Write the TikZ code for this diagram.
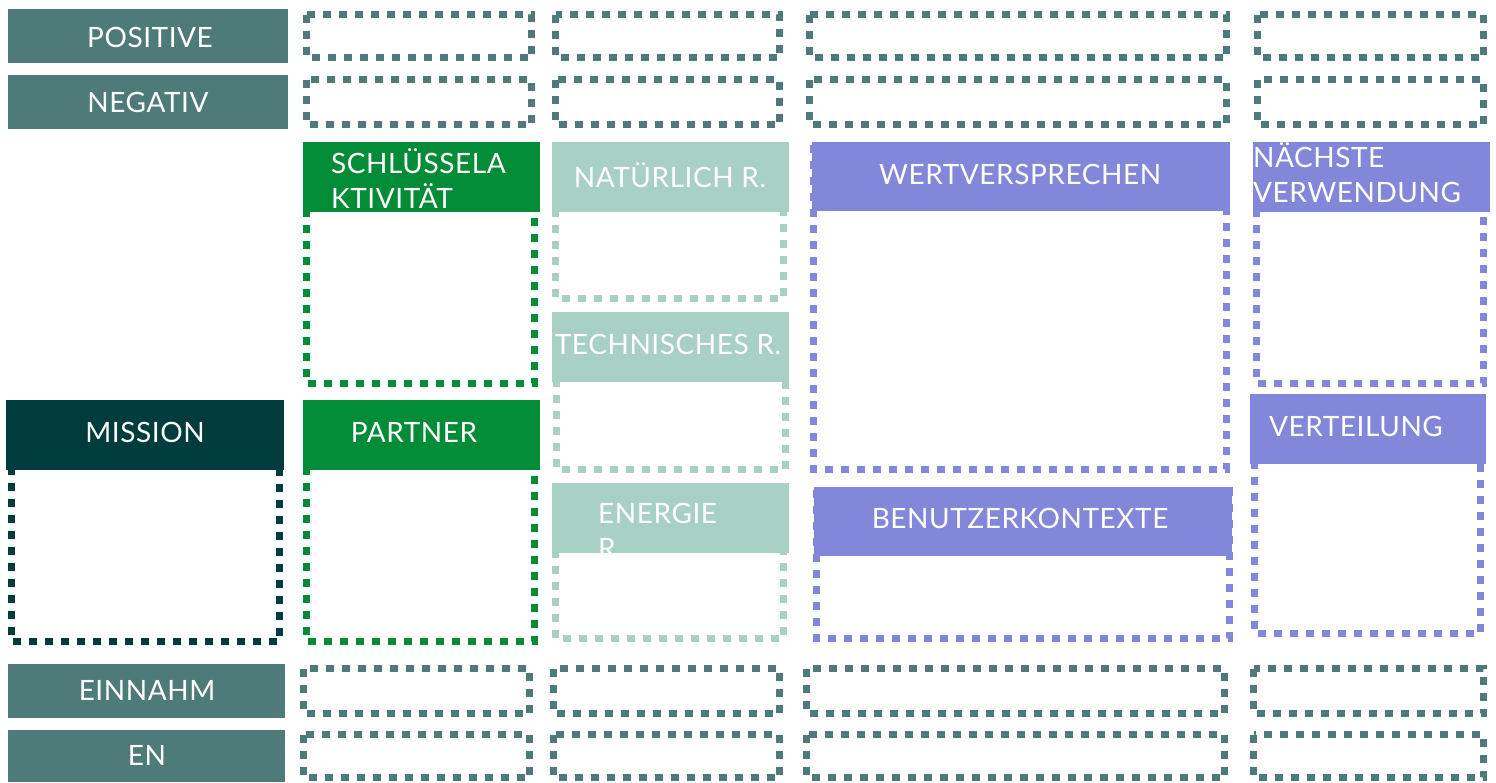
\documentclass[tikz,border=0pt]{standalone}
\usepackage{fontspec}
\setmainfont{Lato}[LetterSpace=2]
\definecolor{slate}{HTML}{4E7B7A}
\definecolor{deep}{HTML}{003C3C}
\definecolor{leaf}{HTML}{038C37}
\definecolor{mint}{HTML}{A9D0C5}
\definecolor{violet}{HTML}{8287D9}
\tikzset{
  dotbox/.style={line width=7pt, dash pattern=on 8pt off 8pt},
  lbl/.style={inner sep=0pt, text=white, font=\fontsize{28}{35}\selectfont},
}
\begin{document}
\begin{tikzpicture}[x=1pt,y=-1pt]
\useasboundingbox (0,0) rectangle (1496,782);
% ---------- left column labels
\fill[slate] (8,9) rectangle (288,63);
\node[lbl] (pos) at (150,37) {POSITIVE};
\fill[slate] (8,75) rectangle (288,129);
\node[lbl] (neg) at (148,102) {NEGATIV};
\fill[slate] (8,664) rectangle (285,718);
\node[lbl] (ein) at (147,690) {EINNAHM};
\fill[slate] (8,730) rectangle (285,782);
\node[lbl] (en) at (147,755) {EN};
% ---------- top dotted rows
\foreach \a/\b in {303/535,552/783,806/1230,1254/1487}{
  \draw[dotbox,draw=slate] (\a+3.5,14.5) rectangle (\b-3.5,57.5);
  \draw[dotbox,draw=slate] (\a+3.5,79.5) rectangle (\b-3.5,124.5);
}
% ---------- bottom dotted rows
\foreach \a/\b in {300/533,550/783,803/1228,1250/1487}{
  \draw[dotbox,draw=slate] (\a+3.5,668.5) rectangle (\b-3.5,713.5);
  \draw[dotbox,draw=slate] (\a+3.5,734.5) rectangle (\b-3.5,777.5);
}
% ---------- Mission
\draw[dotbox,draw=deep] (11.5,403) rectangle (279.5,641.5);
\fill[deep] (6,400) rectangle (284,470);
\node[lbl] (mission) at (145,432) {MISSION};
% ---------- Schluesselaktivitaet
\draw[dotbox,draw=leaf] (306.5,145) rectangle (534.5,383.5);
\fill[leaf] (303,142) rectangle (540,212);
\node[lbl,anchor=north west,align=left] (key) at (331,148) {SCHLÜSSELA\\KTIVITÄT};
% ---------- Partner
\draw[dotbox,draw=leaf] (306.5,403) rectangle (534.5,641.5);
\fill[leaf] (303,400) rectangle (540,470);
\node[lbl] (partner) at (414,432) {PARTNER};
% ---------- Natuerlich R.
\draw[dotbox,draw=mint] (555.5,145) rectangle (783.5,298.5);
\fill[mint] (552,142) rectangle (789,212);
\node[lbl] (nat) at (670,175) {NATÜRLICH R.};
% ---------- Technisches R.
\draw[dotbox,draw=mint] (556.5,315) rectangle (785.5,469.5);
\fill[mint] (552,312) rectangle (789,382);
\node[lbl] (tech) at (668,344) {TECHNISCHES R.};
% ---------- Energie R.
\draw[dotbox,draw=mint] (555.5,486) rectangle (783.5,638.5);
\fill[mint] (552,483) rectangle (789,553);
\node[lbl,anchor=north west,align=left] (energ) at (598,503) {ENERGIE\\R.};
\fill[white] (561,553) rectangle (777,632);
% ---------- Wertversprechen
\draw[dotbox,draw=violet] (813.5,145) rectangle (1226.5,469.5);
\fill[violet] (812,142) rectangle (1230,211);
\node[lbl] (wert) at (1020,174) {WERTVERSPRECHEN};
% ---------- Benutzerkontexte
\draw[dotbox,draw=violet] (816.5,490) rectangle (1229.5,638.5);
\fill[violet] (814,487) rectangle (1232,556);
\node[lbl] (ben) at (1020,518) {BENUTZERKONTEXTE};
% ---------- Naechste Verwendung
\draw[dotbox,draw=violet] (1256.5,145) rectangle (1483.5,383.5);
\fill[violet] (1253,142) rectangle (1490,212);
\node[lbl,anchor=north west,align=left] (next) at (1253,142) {NÄCHSTE\\VERWENDUNG};
% ---------- Verteilung
\draw[dotbox,draw=violet] (1254.5,397) rectangle (1480.5,633.5);
\fill[violet] (1250,394) rectangle (1486,464);
\node[lbl] (vert) at (1356,426) {VERTEILUNG};
\end{tikzpicture}
\end{document}
